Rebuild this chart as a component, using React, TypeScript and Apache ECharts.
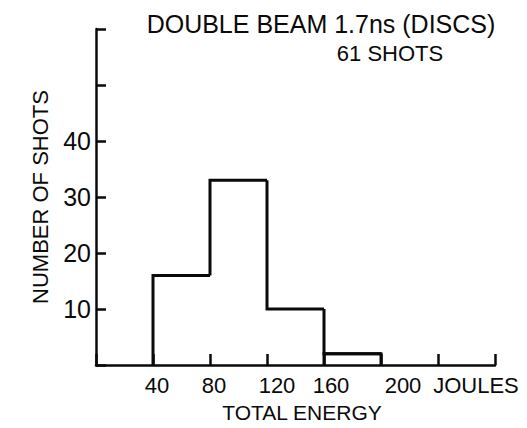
import React, { useEffect, useRef } from "react";
import * as echarts from "echarts";

const binStarts = [40, 80, 120, 160];
const binEnds = [80, 120, 160, 200];
const shotCounts = [16, 33, 10, 2];
const xTickValues = [40, 80, 120, 160, 200, 280];
const xTickLabels = ["40", "80", "120", "160", "200", "JOULES"];
const yTickValues = [10, 20, 30, 40];
const titleLine1 = "DOUBLE BEAM 1.7ns (DISCS)";
const titleLine2 = "61 SHOTS";
const xName = "TOTAL ENERGY";
const yName = "NUMBER OF SHOTS";

const FONT = "'Liberation Sans', Arial, sans-serif";
const INK = "#0a0a0a";

export default function App() {
  const ref = useRef<HTMLDivElement>(null);
  useEffect(() => {
    document.body.style.margin = "0";
    const chart = echarts.init(ref.current!, null, { renderer: "svg" });
    const xShift: Record<string, number[]> = {
      "40": [0, 0, 0, 8],
      "80": [0, 0, 0, 8],
      "120": [0, 0, 0, 20],
      "160": [0, 0, 0, 14],
      "200": [0, 0, 0, 44],
      "JOULES": [0, 38, 0, 0],
    };
    const rich: Record<string, any> = {};
    xTickLabels.forEach((l, i) => {
      rich["k" + i] = {
        fontFamily: FONT,
        fontSize: 22,
        color: INK,
        padding: xShift[l],
      };
    });
    const data = binStarts.map((s, i) => [
      s,
      binEnds[i],
      shotCounts[i],
      i > 0 && binEnds[i - 1] === s ? shotCounts[i - 1] : 0,
      i === binStarts.length - 1 ? 1 : 0,
    ]);
    chart.setOption({
      animation: false,
      backgroundColor: "#fff",
      grid: { left: 96, top: 29, width: 399, height: 336 },
      graphic: [
        {
          type: "text",
          x: 321,
          y: 24,
          style: {
            text: titleLine1,
            fontFamily: FONT,
            fontSize: 25,
            fill: INK,
            textAlign: "center",
            textVerticalAlign: "middle",
          },
        },
        {
          type: "text",
          x: 390,
          y: 53,
          style: {
            text: titleLine2,
            fontFamily: FONT,
            fontSize: 22,
            fill: INK,
            textAlign: "center",
            textVerticalAlign: "middle",
          },
        },
      ],
      xAxis: {
        type: "value",
        min: 0,
        max: 280,
        interval: 40,
        name: xName,
        nameLocation: "middle",
        nameGap: 37,
        nameTextStyle: {
          fontFamily: FONT,
          fontSize: 21,
          color: INK,
          padding: [0, 0, 0, 13],
        },
        splitLine: { show: false },
        axisLine: { show: true, lineStyle: { color: INK, width: 2.5 } },
        axisTick: {
          show: true,
          inside: true,
          length: 11,
          lineStyle: { color: INK, width: 2.5 },
        },
        axisLabel: {
          margin: 9,
          formatter: (v: number) => {
            const i = xTickValues.indexOf(v);
            return i >= 0 ? `{k${i}|${xTickLabels[i]}}` : "";
          },
          rich,
        },
      },
      yAxis: {
        type: "value",
        min: 0,
        max: 60,
        interval: 10,
        name: yName,
        nameLocation: "middle",
        nameGap: 45,
        nameRotate: 90,
        nameTextStyle: { fontFamily: FONT, fontSize: 22, color: INK },
        splitLine: { show: false },
        axisLine: { show: true, lineStyle: { color: INK, width: 2.5 } },
        axisTick: {
          show: true,
          inside: true,
          length: 10,
          lineStyle: { color: INK, width: 2.5 },
        },
        axisLabel: {
          margin: 5,
          fontFamily: FONT,
          fontSize: 25,
          color: INK,
          formatter: (v: number) => (yTickValues.includes(v) ? String(v) : ""),
        },
      },
      series: [
        {
          type: "custom",
          renderItem: (params: any, api: any) => {
            const s = api.value(0);
            const e = api.value(1);
            const h = api.value(2);
            const prev = api.value(3);
            const last = api.value(4);
            const style = { fill: "none", stroke: INK, lineWidth: 3, lineJoin: "miter" };
            const children: any[] = [
              {
                type: "polyline",
                shape: {
                  points: [api.coord([s, prev]), api.coord([s, h]), api.coord([e, h])],
                },
                style,
              },
            ];
            if (last) {
              children.push({
                type: "polyline",
                shape: {
                  points: [
                    api.coord([s, 0]),
                    api.coord([s, h]),
                    api.coord([e, h]),
                    api.coord([e, 0]),
                  ],
                },
                style,
              });
            }
            return { type: "group", children };
          },
          encode: { x: [0, 1], y: 2 },
          data,
        },
      ],
    });
    return () => chart.dispose();
  }, []);
  return <div ref={ref} style={{ width: 527, height: 428 }} />;
}
